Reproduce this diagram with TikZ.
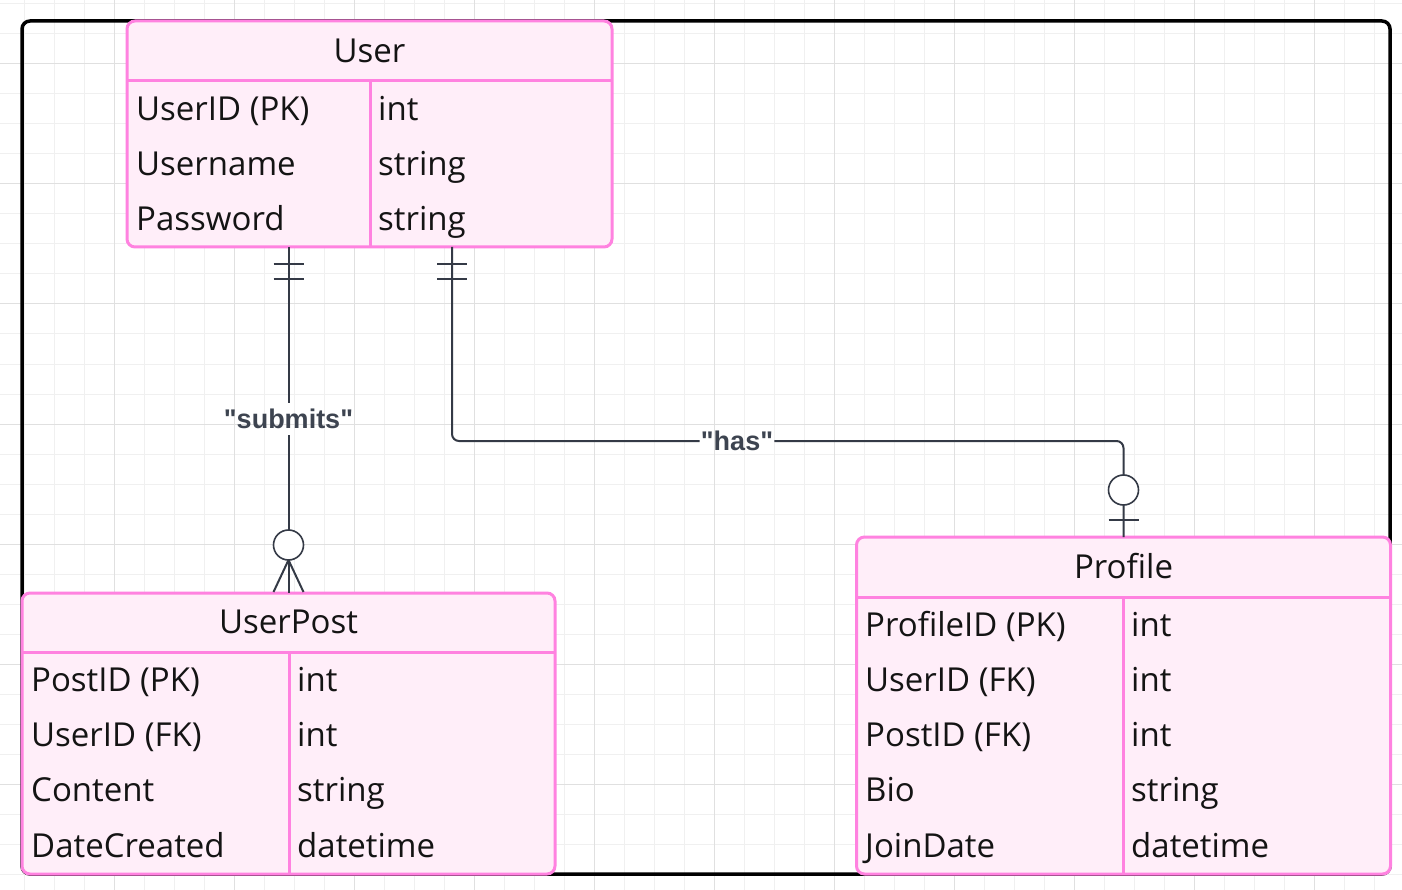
\documentclass[tikz,border=0pt]{standalone}
\usepackage{fontspec}
\setmainfont{Open Sans}
\newfontfamily\lblfamily{Liberation Sans}
\usetikzlibrary{calc}
\definecolor{erpink}{HTML}{FF82E0}
\definecolor{erfill}{HTML}{FFEEF9}
\definecolor{ertext}{HTML}{141414}
\definecolor{relcol}{HTML}{343A46}
\definecolor{lblcol}{HTML}{3D4450}
\definecolor{gridminor}{HTML}{F0F0F0}
\definecolor{gridmajor}{HTML}{E0E0E0}
\tikzset{
  entity/.style={draw=erpink, fill=erfill, line width=3, rounded corners=8, inner sep=0, outer sep=0, anchor=north west},
  sepline/.style={draw=erpink, line width=3},
  fieldtxt/.style={anchor=base west, inner sep=0, text=ertext, font=\fontsize{33}{40}\selectfont},
  titletxt/.style={anchor=base, inner sep=0, text=ertext, font=\fontsize{33}{40}\selectfont},
  rel/.style={draw=relcol, line width=2},
  relmark/.style={draw=relcol, line width=2},
  relcirc/.style={draw=relcol, line width=1.6, fill=white},
  lbl/.style={font=\lblfamily\bfseries\fontsize{27}{32}\selectfont, text=lblcol, inner xsep=1, inner ysep=6},
  minorgrid/.style={draw=gridminor, line width=1},
  majorgrid/.style={draw=gridmajor, line width=1},
  frame/.style={draw=black, line width=3.5, rounded corners=8}
}
\begin{document}
\begin{tikzpicture}[x=1pt, y=-1pt]
\useasboundingbox (0,0) rectangle (1402,890);
\fill[white] (0,0) rectangle (1402,890);
% grid
\foreach \gx in {24,54,...,1394} \draw[minorgrid] (\gx,0) -- (\gx,890);
\foreach \gy in {4,34,...,884} \draw[minorgrid] (0,\gy) -- (1402,\gy);
\foreach \gx in {114,234,...,1314} \draw[majorgrid] (\gx,0) -- (\gx,890);
\foreach \gy in {64,184,...,844} \draw[majorgrid] (0,\gy) -- (1402,\gy);
% outer frame
\draw[frame] (22,21) rectangle (1390,874);

% labels (placed first so connectors can be drawn to them)
\node[lbl] (submits) at (288.5,419) {"submits"};
\node[lbl] (has) at (737,441) {"has"};

% ---------- User ----------
\node[entity, minimum width=485, minimum height=226] (user) at (127,21) {};
\draw[sepline] (127,81) -- (612,81);
\draw[sepline] (370,81) -- (370,247);
\node[titletxt] (userT) at (369.5,63) {User};
\node[fieldtxt] (u1a) at (136,120.7) {UserID (PK)};
\node[fieldtxt] (u1b) at (378,120.7) {int};
\node[fieldtxt] (u2a) at (136,175.7) {Username};
\node[fieldtxt] (u2b) at (378,175.7) {string};
\node[fieldtxt] (u3a) at (136,230.7) {Password};
\node[fieldtxt] (u3b) at (378,230.7) {string};

% ---------- UserPost ----------
\node[entity, minimum width=533, minimum height=281] (post) at (22,593) {};
\draw[sepline] (22,652) -- (555,652);
\draw[sepline] (289,652) -- (289,874);
\node[titletxt] (postT) at (288.5,633.5) {UserPost};
\node[fieldtxt] (p1a) at (31,691.7) {PostID (PK)};
\node[fieldtxt] (p1b) at (297,691.7) {int};
\node[fieldtxt] (p2a) at (31,746.7) {UserID (FK)};
\node[fieldtxt] (p2b) at (297,746.7) {int};
\node[fieldtxt] (p3a) at (31,801.7) {Content};
\node[fieldtxt] (p3b) at (297,801.7) {string};
\node[fieldtxt] (p4a) at (31,857.3) {DateCreated};
\node[fieldtxt] (p4b) at (297,857.3) {datetime};

% ---------- Profile ----------
\node[entity, minimum width=534, minimum height=337] (profile) at (856.5,537) {};
\draw[sepline] (856.5,597) -- (1390.5,597);
\draw[sepline] (1123,597) -- (1123,874);
\node[titletxt] (profT) at (1123.5,578) {Profile};
\node[fieldtxt] (f1a) at (865,636.7) {ProfileID (PK)};
\node[fieldtxt] (f1b) at (1131,636.7) {int};
\node[fieldtxt] (f2a) at (865,691.7) {UserID (FK)};
\node[fieldtxt] (f2b) at (1131,691.7) {int};
\node[fieldtxt] (f3a) at (865,746.7) {PostID (FK)};
\node[fieldtxt] (f3b) at (1131,746.7) {int};
\node[fieldtxt] (f4a) at (865,801.7) {Bio};
\node[fieldtxt] (f4b) at (1131,801.7) {string};
\node[fieldtxt] (f5a) at (865,857.3) {JoinDate};
\node[fieldtxt] (f5b) at (1131,857.3) {datetime};

% ---------- relation: User -- UserPost ("submits") ----------
\coordinate (subTop) at (user.south -| submits);
\coordinate (subBot) at (post.north -| submits);
\draw[rel] (subTop) -- (submits) -- (subBot);
% exactly one at User side
\draw[relmark] ($(subTop)+(-15,17)$) -- ($(subTop)+(15,17)$);
\draw[relmark] ($(subTop)+(-15,32)$) -- ($(subTop)+(15,32)$);
% zero or many at UserPost side
\draw[relmark] ($(subBot)+(0,-33)$) -- ($(subBot)+(-15,-1)$);
\draw[relmark] ($(subBot)+(0,-33)$) -- ($(subBot)+(15,-1)$);
\draw[relcirc] ($(subBot)+(0,-48)$) circle (15);

% ---------- relation: User -- Profile ("has") ----------
\coordinate (hasTop) at ($(user.south west)+(325,0)$);
\draw[rel, rounded corners=7] (hasTop) |- (has.west);
\draw[rel, rounded corners=7] (has.east) -| (profile.north);
% exactly one at User side
\draw[relmark] ($(hasTop)+(-15,17)$) -- ($(hasTop)+(15,17)$);
\draw[relmark] ($(hasTop)+(-15,32)$) -- ($(hasTop)+(15,32)$);
% zero or one at Profile side
\draw[relmark] ($(profile.north)+(-15,-17)$) -- ($(profile.north)+(15,-17)$);
\draw[relcirc] ($(profile.north)+(0,-47)$) circle (15);
\end{tikzpicture}
\end{document}
